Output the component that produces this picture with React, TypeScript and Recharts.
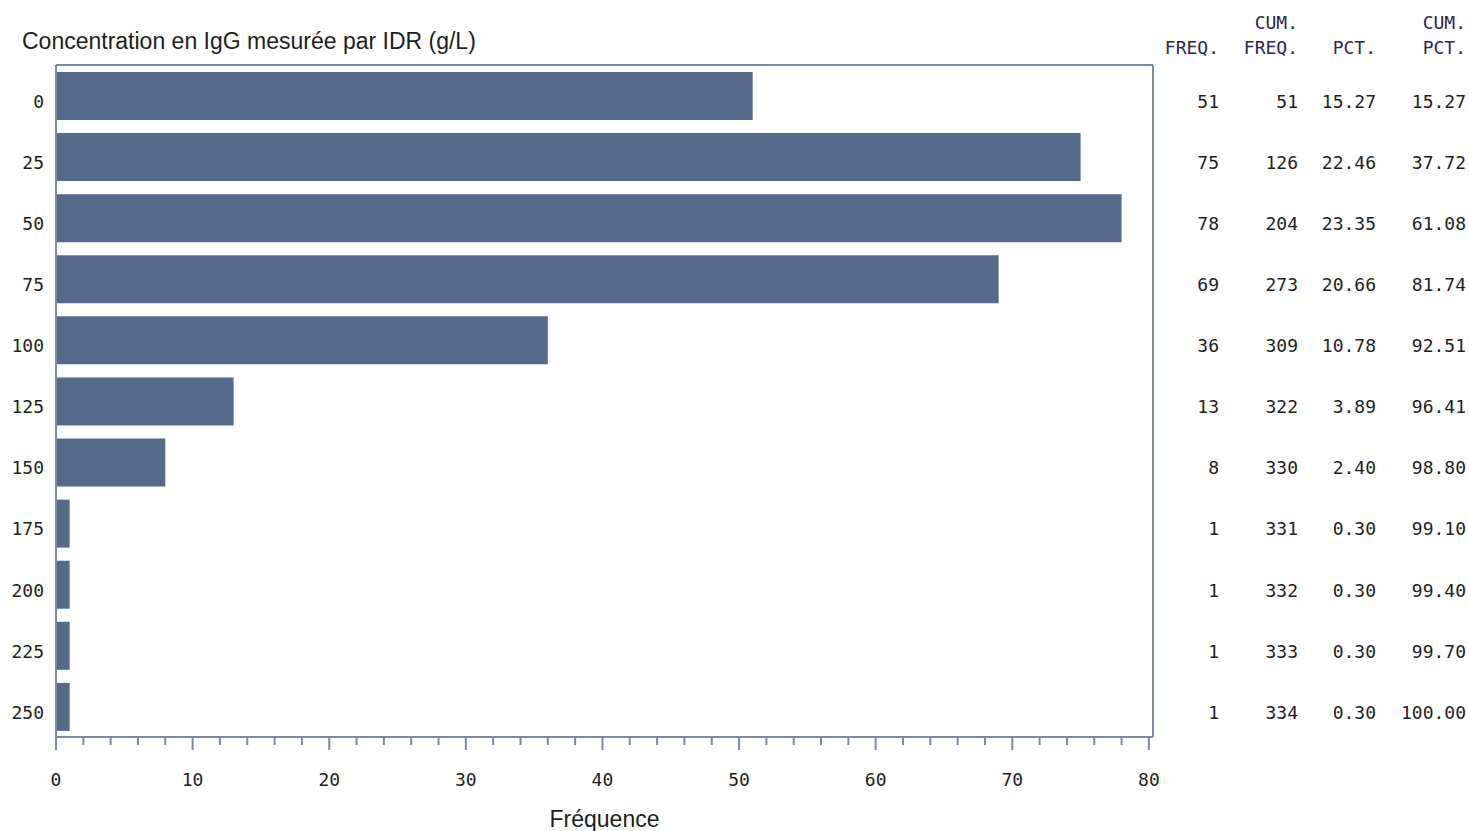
import React from "react";
import { BarChart, Bar, XAxis, YAxis } from "recharts";

const CLASSES = ["0", "25", "50", "75", "100", "125", "150", "175", "200", "225", "250"];
const FREQ = [51, 75, 78, 69, 36, 13, 8, 1, 1, 1, 1];
const CUM_FREQ = [51, 126, 204, 273, 309, 322, 330, 331, 332, 333, 334];
const PCT = ["15.27", "22.46", "23.35", "20.66", "10.78", "3.89", "2.40", "0.30", "0.30", "0.30", "0.30"];
const CUM_PCT = ["15.27", "37.72", "61.08", "81.74", "92.51", "96.41", "98.80", "99.10", "99.40", "99.70", "100.00"];
const X_TICKS = [0, 2, 4, 6, 8, 10, 12, 14, 16, 18, 20, 22, 24, 26, 28, 30, 32, 34, 36, 38, 40, 42, 44, 46, 48, 50, 52, 54, 56, 58, 60, 62, 64, 66, 68, 70, 72, 74, 76, 78, 80];

const W = 1469;
const H = 831;
const MONO = "'DejaVu Sans Mono', monospace";
const SANS = "'Liberation Sans', Arial, sans-serif";
const FRAME = "#7b8aa1";
const BAR = "#546a8b";
const TEXT = "#1e1e1e";
const HEAD = "#2e2450";
const MONO_SIZE = 18;

// table column right edges, measured from the right side of the plot frame
const COL_OFFSETS = [66, 145, 223, 313];

const data = CLASSES.map((c, i) => ({
  bin: c,
  freq: FREQ[i],
}));

function XTick(props: any) {
  const { x, y, payload } = props;
  const major = payload.value % 10 === 0;
  return (
    <g>
      <line x1={x} x2={x} y1={y} y2={y + (major ? 13 : 8)} stroke={FRAME} strokeWidth={2} />
      {major && (
        <text x={x} y={y + 49} textAnchor="middle" fontFamily={MONO} fontSize={MONO_SIZE} fill={TEXT}>
          {payload.value}
        </text>
      )}
    </g>
  );
}

function YTick(props: any) {
  const { x, y, payload } = props;
  return (
    <text x={x} y={y + 6} dy="0.35em" textAnchor="end" fontFamily={MONO} fontSize={MONO_SIZE} fill={TEXT}>
      {payload.value}
    </text>
  );
}

function TableTick(props: any) {
  const { x, y, payload } = props;
  const i = CLASSES.indexOf(String(payload.value));
  if (i < 0) return null;
  const cells = [FREQ[i], CUM_FREQ[i], PCT[i], CUM_PCT[i]];
  return (
    <g>
      {cells.map((v, k) => (
        <text
          key={k}
          x={x + COL_OFFSETS[k]}
          y={y + 6}
          dy="0.35em"
          textAnchor="end"
          fontFamily={MONO}
          fontSize={MONO_SIZE}
          fill={TEXT}
        >
          {v}
        </text>
      ))}
    </g>
  );
}

const headStyle: React.CSSProperties = {
  position: "absolute",
  fontFamily: MONO,
  fontSize: MONO_SIZE,
  color: HEAD,
  textAlign: "right",
  lineHeight: "25px",
  whiteSpace: "pre",
};

export default function App() {
  return (
    <div style={{ position: "absolute", left: 0, top: 0, width: W, height: H, background: "#fff" }}>
      <div
        style={{
          position: "absolute",
          left: 22,
          top: 27,
          fontFamily: SANS,
          fontSize: 23,
          lineHeight: "28px",
          color: TEXT,
          whiteSpace: "nowrap",
        }}
      >
        Concentration en IgG mesurée par IDR (g/L)
      </div>
      {/* table header */}
      <div style={{ ...headStyle, right: W - 1219, top: 10 }}>{"\nFREQ."}</div>
      <div style={{ ...headStyle, right: W - 1298, top: 10 }}>{"CUM.\nFREQ."}</div>
      <div style={{ ...headStyle, right: W - 1376, top: 10 }}>{"\nPCT."}</div>
      <div style={{ ...headStyle, right: W - 1466, top: 10 }}>{"CUM.\nPCT."}</div>

      <BarChart
        width={W}
        height={H}
        data={data}
        layout="vertical"
        margin={{ top: 64, right: 0, bottom: 0, left: 0 }}
        barSize={48}
      >
        <XAxis
          type="number"
          dataKey="freq"
          domain={[0, 80.3]}
          ticks={X_TICKS}
          interval={0}
          tickSize={0}
          tickMargin={0}
          tickLine={false}
          tick={<XTick />}
          axisLine={{ stroke: FRAME, strokeWidth: 2 }}
          height={94}
          label={{
            value: "Fréquence",
            position: "insideBottom",
            offset: 4,
            style: { fontFamily: SANS, fontSize: 23, fill: TEXT },
          }}
        />
        <XAxis
          xAxisId="top"
          orientation="top"
          type="number"
          domain={[0, 80.3]}
          height={1}
          tick={false}
          tickLine={false}
          axisLine={{ stroke: FRAME, strokeWidth: 2 }}
        />
        <YAxis
          type="category"
          dataKey="bin"
          width={56}
          interval={0}
          tickSize={0}
          tickMargin={12}
          tickLine={false}
          axisLine={{ stroke: FRAME, strokeWidth: 2 }}
          tick={<YTick />}
        />
        <YAxis
          yAxisId="table"
          orientation="right"
          type="category"
          dataKey="bin"
          width={316}
          interval={0}
          tickSize={0}
          tickMargin={0}
          tickLine={false}
          axisLine={{ stroke: FRAME, strokeWidth: 2 }}
          tick={<TableTick />}
        />
        <Bar dataKey="freq" fill={BAR} isAnimationActive={false} />
      </BarChart>
    </div>
  );
}
